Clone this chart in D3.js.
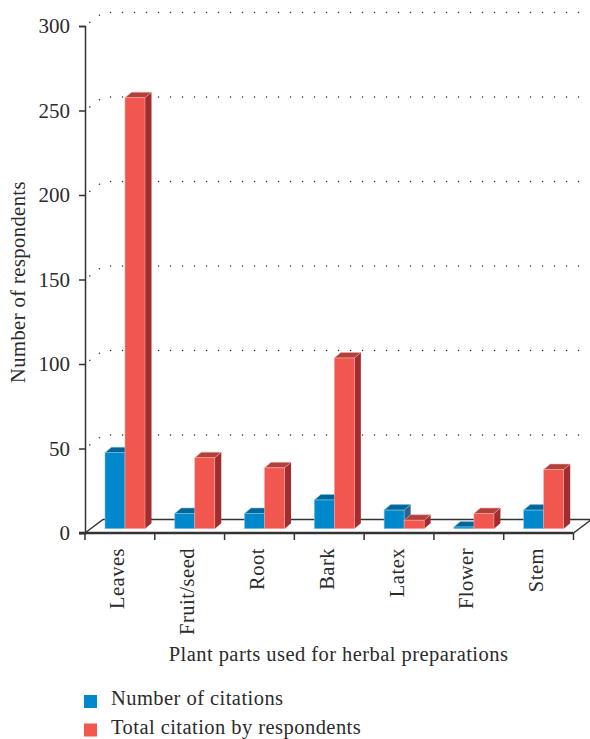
<!DOCTYPE html>
<html>
<head>
<meta charset="utf-8">
<script src="https://cdn.jsdelivr.net/npm/d3@7/dist/d3.min.js"></script>
<style>
  html, body { margin: 0; padding: 0; background: #fff; }
  svg { display: block; }
  text { font-family: "Liberation Serif", serif; fill: #2b2b2b; }
</style>
</head>
<body>
<svg id="chart" width="590" height="739"></svg>
<script>
const categories = ["Leaves", "Fruit/seed", "Root", "Bark", "Latex", "Flower", "Stem"];
const citations = [45, 9, 9, 17, 11, 1, 11];
const totalCitations = [255, 42, 36, 101, 5, 9, 35];
const yTicks = [0, 50, 100, 150, 200, 250, 300];
const seriesNames = ["Number of citations", "Total citation by respondents"];

const palette = [
  { front: "#0088cc", top: "#006699", side: "#336088", edge: "#7fc0e2" },
  { front: "#f2574f", top: "#b0423e", side: "#a12d31", edge: "#f8a5a0" }
];

const svg = d3.select("#chart");
const ink = "#333";

const x = d3.scaleBand().domain(categories).range([85, 573.5]);
const y = d3.scaleLinear().domain([0, 300]).range([533, 26]);

// Offsets of the chart's floor and back wall relative to the front plane.
const wall = { dx: 18, dy: -13.5 };
const barInset = { dx: 20, dy: -4.3 };
const barDepth = { dx: 6.5, dy: -5.5 };
const barWidth = 20;

// Dotted guide lines run up the side wall, then along the back wall.
svg.append("g").selectAll("path")
  .data(yTicks.filter(t => t > 0))
  .join("path")
  .attr("d", t => `M${x.range()[0]},${y(t)}l${wall.dx},${wall.dy}H583`)
  .attr("fill", "none")
  .attr("stroke", "#333")
  .attr("stroke-width", 1.4)
  .attr("stroke-linecap", "round")
  .attr("stroke-dasharray", "0.1 11.9")
  .attr("stroke-dashoffset", -6);

// Floor outline behind the bars.
const [x0, x1] = x.range();
svg.append("path")
  .attr("d", `M${x0},${y(0)}l${wall.dx},${wall.dy}H${x1 + wall.dx}M${x1},${y(0)}l${wall.dx},${wall.dy}`)
  .attr("fill", "none")
  .attr("stroke", ink)
  .attr("stroke-width", 1.5);

// Each bar is three polygons: front, top and side faces.
function drawBar(g, left, value, colors) {
  const base = y(0) + barInset.dy;
  const top = y(value) + barInset.dy;
  const right = left + barWidth;
  const { dx, dy } = barDepth;
  g.append("path")
    .attr("d", `M${right},${top}l${dx},${dy}V${base + dy}L${right},${base}Z`)
    .attr("fill", colors.side);
  g.append("path")
    .attr("d", `M${left},${top}l${dx},${dy}H${right + dx}L${right},${top}Z`)
    .attr("fill", colors.top)
    .attr("stroke", colors.edge).attr("stroke-width", 0.6);
  g.append("rect")
    .attr("x", left).attr("y", top)
    .attr("width", barWidth).attr("height", base - top)
    .attr("fill", colors.front)
    .attr("stroke", colors.edge).attr("stroke-width", 0.6);
}

const bars = svg.append("g");
categories.forEach((c, i) => {
  const start = x(c) + barInset.dx;
  drawBar(bars, start, citations[i], palette[0]);
  drawBar(bars, start + barWidth, totalCitations[i], palette[1]);
});

// Axes
const yAxis = svg.append("g")
  .attr("transform", `translate(${x0},0)`)
  .call(d3.axisLeft(y).tickValues(yTicks).tickSize(6).tickPadding(9));
yAxis.selectAll("text").style("font-size", "21px").attr("fill", "#2b2b2b")
  .style("font-family", '"Liberation Serif", serif');
yAxis.selectAll("line").attr("stroke", ink).attr("stroke-width", 1.5);
yAxis.select(".domain").attr("stroke", ink).attr("stroke-width", 1.5);

const xEdges = categories.map(c => x(c)).concat(x1);
const xAxis = svg.append("g").attr("transform", `translate(0,${y(0)})`);
xAxis.append("line")
  .attr("x1", x0 - 6).attr("x2", x1)
  .attr("stroke", ink).attr("stroke-width", 2.4);
xAxis.selectAll(".edge")
  .data(xEdges)
  .join("line")
  .attr("class", "edge")
  .attr("x1", d => d).attr("x2", d => d)
  .attr("y1", 0).attr("y2", 7)
  .attr("stroke", ink).attr("stroke-width", 1.5);

xAxis.selectAll(".cat")
  .data(categories)
  .join("text")
  .attr("class", "cat")
  .attr("text-anchor", "end")
  .attr("transform", c => `translate(${x(c) + x.bandwidth() / 2 + 4.5},15) rotate(-90)`)
  .style("font-size", "20.5px")
  .style("letter-spacing", "0.5px")
  .text(c => c);

// Axis titles
svg.append("text")
  .attr("transform", "translate(25,282) rotate(-90)")
  .attr("text-anchor", "middle")
  .style("font-size", "20.5px")
  .style("letter-spacing", "0.45px")
  .text("Number of respondents");

svg.append("text")
  .attr("x", 338.5).attr("y", 661)
  .attr("text-anchor", "middle")
  .style("font-size", "20.5px")
  .style("letter-spacing", "0.45px")
  .text("Plant parts used for herbal preparations");

// Legend
const legend = svg.append("g").selectAll("g")
  .data(seriesNames)
  .join("g")
  .attr("transform", (d, i) => `translate(84,${695 + i * 28.5})`);
legend.append("rect")
  .attr("width", 13).attr("height", 13)
  .attr("fill", (d, i) => palette[i].front);
legend.append("text")
  .attr("x", 27).attr("y", 10)
  .style("font-size", "20.5px")
  .style("letter-spacing", "0.45px")
  .text(d => d);
</script>
</body>
</html>
